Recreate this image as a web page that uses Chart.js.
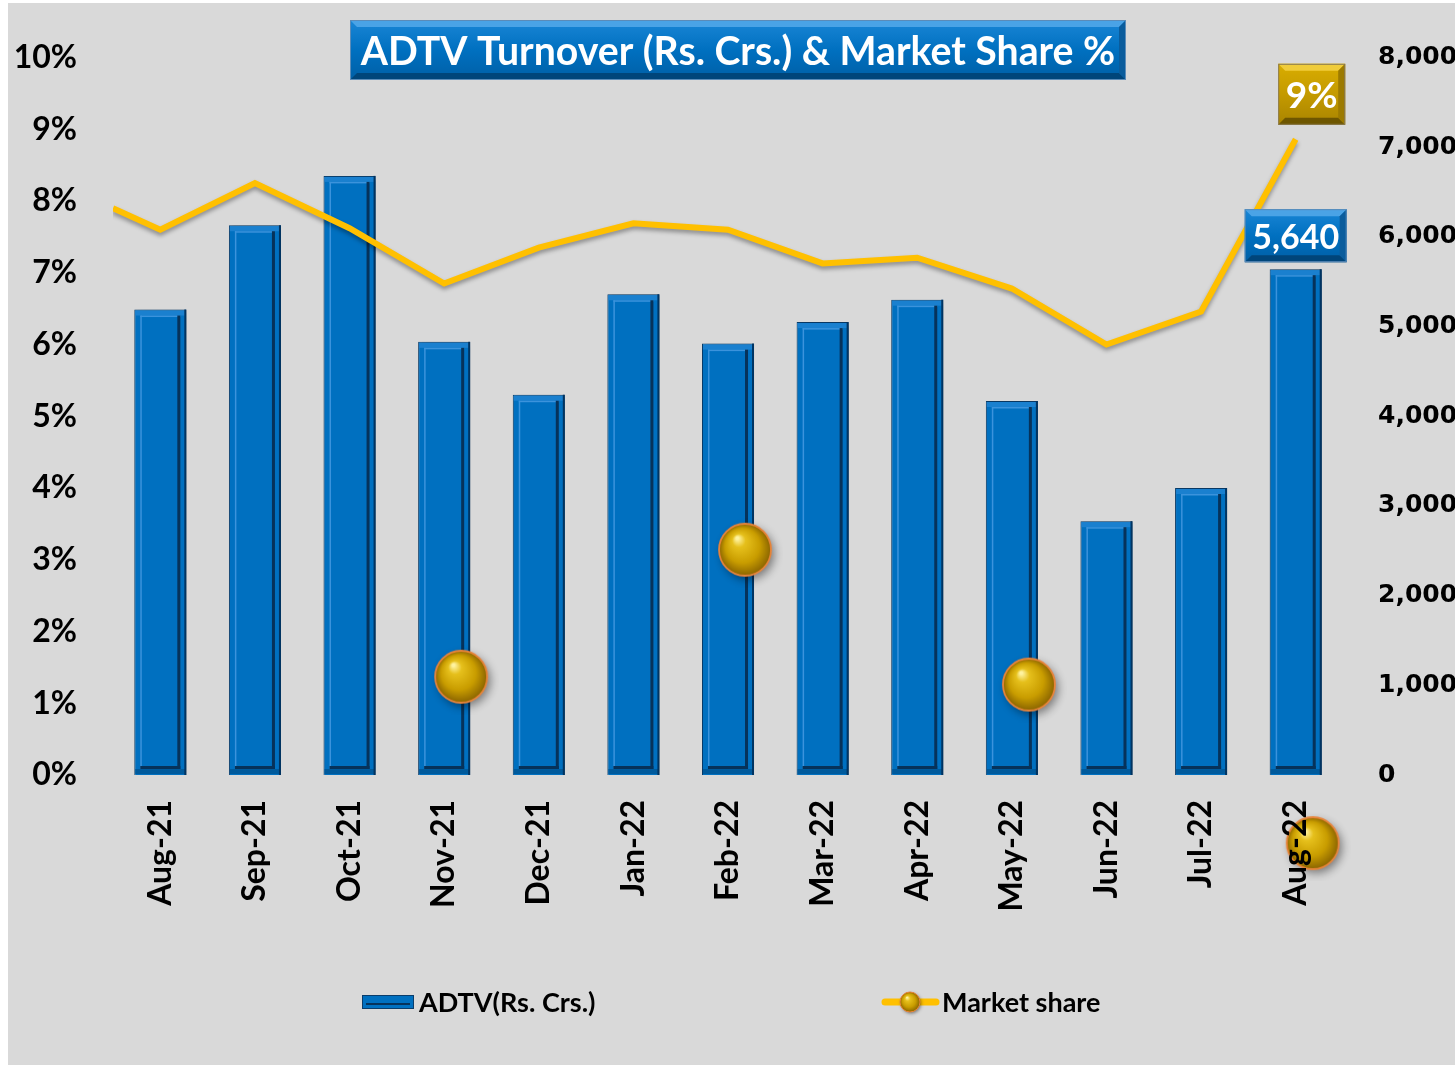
<!DOCTYPE html>
<html>
<head>
<meta charset="utf-8">
<script src="https://cdn.jsdelivr.net/npm/chart.js@4.4.0/dist/chart.umd.min.js"></script>
<style>
  html, body { margin: 0; padding: 0; background: #ffffff; }
  #wrap { position: absolute; left: 8px; top: 3px; width: 1447px; height: 1062px; background: #d9d9d9; overflow: hidden; }
</style>
</head>
<body>
<div id="wrap"><canvas id="chartADTV" width="1447" height="1062"></canvas></div>
<script>
var chartTitle = 'ADTV Turnover (Rs. Crs.) & Market Share %';
var months = ['Aug-21', 'Sep-21', 'Oct-21', 'Nov-21', 'Dec-21', 'Jan-22', 'Feb-22',
              'Mar-22', 'Apr-22', 'May-22', 'Jun-22', 'Jul-22', 'Aug-22'];
// ADTV in Rs. crore (right axis)
var adtv = [5190, 6130, 6680, 4830, 4240, 5360, 4810, 5050, 5300, 4170, 2830, 3200, 5640];
// market share in % (left axis)
var share = [7.60, 8.25, 7.62, 6.85, 7.35, 7.69, 7.60, 7.13, 7.21, 6.78, 6.00, 6.46, 8.86];
// the line comes in from the left edge of the plot
var shareLead = 7.90;
// stray marker balls of the market share series
var ballX = [3.18, 6.18, 9.18, 12.18];
var ballY = [1.37, 3.14, 1.26, -0.95];
var pctMax = 10, pctStep = 1;
var adtvMax = 8000, adtvStep = 1000;
var seriesNames = ['ADTV(Rs. Crs.)', 'Market share'];

var blue = '#0070C0';
var gold = '#FFC000';

function makeBall(r) {
    var pad = Math.ceil(r * 0.45);
    var c = document.createElement('canvas');
    c.width = c.height = 2 * (r + pad);
    var g = c.getContext('2d');
    var cx = r + pad, cy = r + pad;
    g.save();
    g.shadowColor = 'rgba(0,0,0,0.45)';
    g.shadowBlur = r * 0.35;
    g.shadowOffsetX = r * 0.12;
    g.shadowOffsetY = r * 0.15;
    g.beginPath(); g.arc(cx, cy, r, 0, Math.PI * 2);
    g.fillStyle = '#b88a00'; g.fill();
    g.restore();
    var grad = g.createRadialGradient(cx - r * 0.3, cy - r * 0.45, r * 0.05, cx, cy, r);
    grad.addColorStop(0, '#fff3a0');
    grad.addColorStop(0.22, '#e6c01c');
    grad.addColorStop(0.65, '#c99d00');
    grad.addColorStop(1, '#8a6400');
    g.beginPath(); g.arc(cx, cy, r, 0, Math.PI * 2);
    g.fillStyle = grad; g.fill();
    g.lineWidth = Math.max(1, r * 0.07);
    g.strokeStyle = '#e8843a';
    g.stroke();
    return c;
}
var ball = makeBall(26);
var smallBall = makeBall(10);

function bevelBox(ctx, x, y, w, h, c) {
    var b = Math.min(7, h * 0.14);
    var g = ctx.createLinearGradient(0, y, 0, y + h);
    g.addColorStop(0, c.top);
    g.addColorStop(0.5, c.mid);
    g.addColorStop(1, c.bottom);
    ctx.fillStyle = g;
    ctx.fillRect(x, y, w, h);
    ctx.fillStyle = c.light;
    ctx.beginPath();
    ctx.moveTo(x, y); ctx.lineTo(x + w, y); ctx.lineTo(x + w - b, y + b); ctx.lineTo(x + b, y + b);
    ctx.closePath(); ctx.fill();
    ctx.fillStyle = c.dark;
    ctx.beginPath();
    ctx.moveTo(x, y + h); ctx.lineTo(x + w, y + h); ctx.lineTo(x + w - b, y + h - b); ctx.lineTo(x + b, y + h - b);
    ctx.closePath(); ctx.fill();
    ctx.fillStyle = c.side;
    ctx.beginPath();
    ctx.moveTo(x + w, y); ctx.lineTo(x + w, y + h); ctx.lineTo(x + w - b, y + h - b); ctx.lineTo(x + w - b, y + b);
    ctx.closePath(); ctx.fill();
    ctx.strokeStyle = c.edge;
    ctx.lineWidth = 1;
    ctx.strokeRect(x + 0.5, y + 0.5, w - 1, h - 1);
}
var blueBox = { top: '#1a86d6', mid: '#0070C0', bottom: '#005fa6', light: '#4aa3e6', dark: '#00457a', side: '#0a5c9c', edge: '#5b8bb8' };
var goldBox = { top: '#d9ad00', mid: '#c49a00', bottom: '#a98400', light: '#f0cc3a', dark: '#6e5600', side: '#9c7a00', edge: '#8a7a50' };

// bevel and shadow on the bars, shadow under the line
var styling = {
    id: 'styling',
    beforeDatasetDraw: function (chart, args) {
        var ctx = chart.ctx;
        ctx.save();
        if (args.index === 0) {
            ctx.shadowColor = 'rgba(0,0,0,0.35)';
            ctx.shadowBlur = 6;
            ctx.shadowOffsetX = 3;
            ctx.shadowOffsetY = 2;
        } else if (args.index === 1) {
            ctx.shadowColor = 'rgba(0,0,0,0.35)';
            ctx.shadowBlur = 4;
            ctx.shadowOffsetY = 3;
        }
    },
    afterDatasetDraw: function (chart, args) {
        var ctx = chart.ctx;
        ctx.restore();
        if (args.index !== 0) return;
        args.meta.data.forEach(function (bar) {
            var l = bar.x - bar.width / 2, r = bar.x + bar.width / 2;
            var t = bar.y, bt = bar.base, w = r - l, h = bt - t;
            var i = 6;
            ctx.fillStyle = '#1a80cf';
            ctx.fillRect(l + 1, t + 1, w - 2, i - 1);
            ctx.fillStyle = '#005a9c';
            ctx.fillRect(l + 1, bt - i, w - 2, i - 1);
            ctx.fillStyle = '#3b93dc';
            ctx.fillRect(l + i, t + i, 1.5, h - 2 * i);
            ctx.fillRect(l + i, t + i, w - 2 * i, 1.5);
            ctx.fillStyle = '#06325a';
            ctx.fillRect(r - i - 3, t + i, 3, h - 2 * i);
            ctx.fillRect(l + i, bt - i - 3, w - 2 * i, 3);
            ctx.fillStyle = '#003462';
            ctx.fillRect(r - 2, t, 2, h);
        });
    },
    afterDraw: function (chart) {
        var ctx = chart.ctx;
        ctx.save();
        // title box
        var tx = 342, ty = 17, tw = 776, th = 60;
        bevelBox(ctx, tx, ty, tw, th, blueBox);
        ctx.font = 'bold 40px Lato';
        var size = 40 * 755 / ctx.measureText(chartTitle).width;
        ctx.font = 'bold ' + size.toFixed(1) + 'px Lato';
        ctx.fillStyle = '#ffffff';
        ctx.textAlign = 'center';
        ctx.textBaseline = 'middle';
        ctx.fillText(chartTitle, tx + tw / 2, ty + th / 2 + 2);

        // value labels on the last month
        var bars = chart.getDatasetMeta(0).data;
        var lastBar = bars[bars.length - 1];
        var bw = 102, bh = 53;
        bevelBox(ctx, lastBar.x - bw / 2, lastBar.y - 7 - bh, bw, bh, blueBox);
        ctx.font = 'bold 34px Lato';
        ctx.fillStyle = '#ffffff';
        ctx.fillText(adtv[adtv.length - 1].toLocaleString('en-US'), lastBar.x, lastBar.y - 7 - bh / 2 + 2);

        var pts = chart.getDatasetMeta(1).data;
        var lastPt = pts[pts.length - 1];
        var gw = 67, gh = 61;
        bevelBox(ctx, lastPt.x + 16 - gw / 2, lastPt.y - 45 - gh / 2, gw, gh, goldBox);
        ctx.font = 'bold 37px Lato';
        ctx.fillStyle = '#ffffff';
        ctx.fillText(Math.round(share[share.length - 1]) + '%', lastPt.x + 16, lastPt.y - 45 + 2);

        // legend
        var ly = 999;
        ctx.textAlign = 'left';
        ctx.font = 'bold 27px Lato';
        ctx.fillStyle = blue;
        ctx.fillRect(354, ly - 7, 52, 14);
        ctx.strokeStyle = '#0a3d6b';
        ctx.lineWidth = 1;
        ctx.strokeRect(354.5, ly - 6.5, 51, 13);
        ctx.fillStyle = '#06325a';
        ctx.fillRect(358, ly + 1, 44, 2);
        ctx.fillStyle = '#000000';
        ctx.fillText(seriesNames[0], 411, ly + 1);

        ctx.strokeStyle = gold;
        ctx.lineWidth = 7;
        ctx.lineCap = 'round';
        ctx.beginPath(); ctx.moveTo(877, ly); ctx.lineTo(928, ly); ctx.stroke();
        ctx.drawImage(smallBall, 902 - smallBall.width / 2, ly - smallBall.height / 2);
        ctx.fillStyle = '#000000';
        ctx.fillText(seriesNames[1], 934, ly + 1);
        ctx.restore();
    }
};

function noPad(scale) {
    scale.paddingTop = 0;
    scale.paddingBottom = 0;
}

var ctx = document.getElementById('chartADTV');
var myChart = new Chart(ctx, {
    type: 'bar',
    data: {
        labels: months,
        datasets: [{
            label: seriesNames[0],
            data: adtv,
            xAxisID: 'x',
            yAxisID: 'y1',
            backgroundColor: blue,
            borderColor: '#0a3d6b',
            borderWidth: 1,
            barPercentage: 0.55,
            categoryPercentage: 1,
            grouped: false,
            order: 3
        }, {
            type: 'line',
            label: seriesNames[1],
            data: [{ x: -0.5, y: shareLead }].concat(share.map(function (v, i) { return { x: i, y: v }; })),
            xAxisID: 'xl',
            yAxisID: 'y',
            borderColor: gold,
            borderWidth: 6,
            borderJoinStyle: 'miter',
            pointRadius: 0,
            tension: 0,
            grouped: false,
            order: 2
        }, {
            type: 'line',
            label: seriesNames[1] + ' markers',
            data: ballX.map(function (x, i) { return { x: x, y: ballY[i] }; }),
            xAxisID: 'xl',
            yAxisID: 'y',
            showLine: false,
            pointStyle: ball,
            pointRadius: 80,
            pointHoverRadius: 80,
            clip: false,
            grouped: false,
            order: 1
        }]
    },
    options: {
        responsive: false,
        animation: false,
        devicePixelRatio: 1,
        layout: { autoPadding: false, padding: { top: 54.5, left: 0, right: 0, bottom: 0 } },
        plugins: {
            legend: { display: false },
            tooltip: { enabled: false }
        },
        scales: {
            x: {
                grid: { display: false, drawTicks: false },
                border: { display: false },
                ticks: {
                    z: 1,
                    color: '#000000',
                    font: { family: 'Lato', weight: 'bold', size: 32 },
                    minRotation: 90,
                    maxRotation: 90,
                    padding: 25
                },
                afterFit: function (scale) { scale.height = 290; }
            },
            xl: {
                type: 'linear',
                position: 'bottom',
                min: -0.5,
                max: 12.5,
                offset: false,
                grid: { display: false, drawTicks: false },
                border: { display: false },
                ticks: { display: false },
                afterFit: function (scale) { scale.height = 0; }
            },
            y: {
                position: 'left',
                min: 0,
                max: pctMax,
                grid: { display: false, drawTicks: false },
                border: { display: false },
                ticks: {
                    stepSize: pctStep,
                    color: '#000000',
                    font: { family: 'Lato', weight: 'bold', size: 32 },
                    padding: 36,
                    callback: function (v) { return v + '%'; }
                },
                afterFit: function (scale) { scale.width = 105; noPad(scale); }
            },
            y1: {
                position: 'right',
                min: 0,
                max: adtvMax,
                grid: { display: false, drawTicks: false },
                border: { display: false },
                ticks: {
                    stepSize: adtvStep,
                    color: '#000000',
                    font: { family: 'DejaVu Sans', weight: 'bold', size: 25 },
                    padding: 35,
                    callback: function (v) { return v.toLocaleString('en-US'); }
                },
                afterFit: function (scale) { scale.width = 112; noPad(scale); }
            }
        }
    },
    plugins: [styling]
});
</script>
</body>
</html>
